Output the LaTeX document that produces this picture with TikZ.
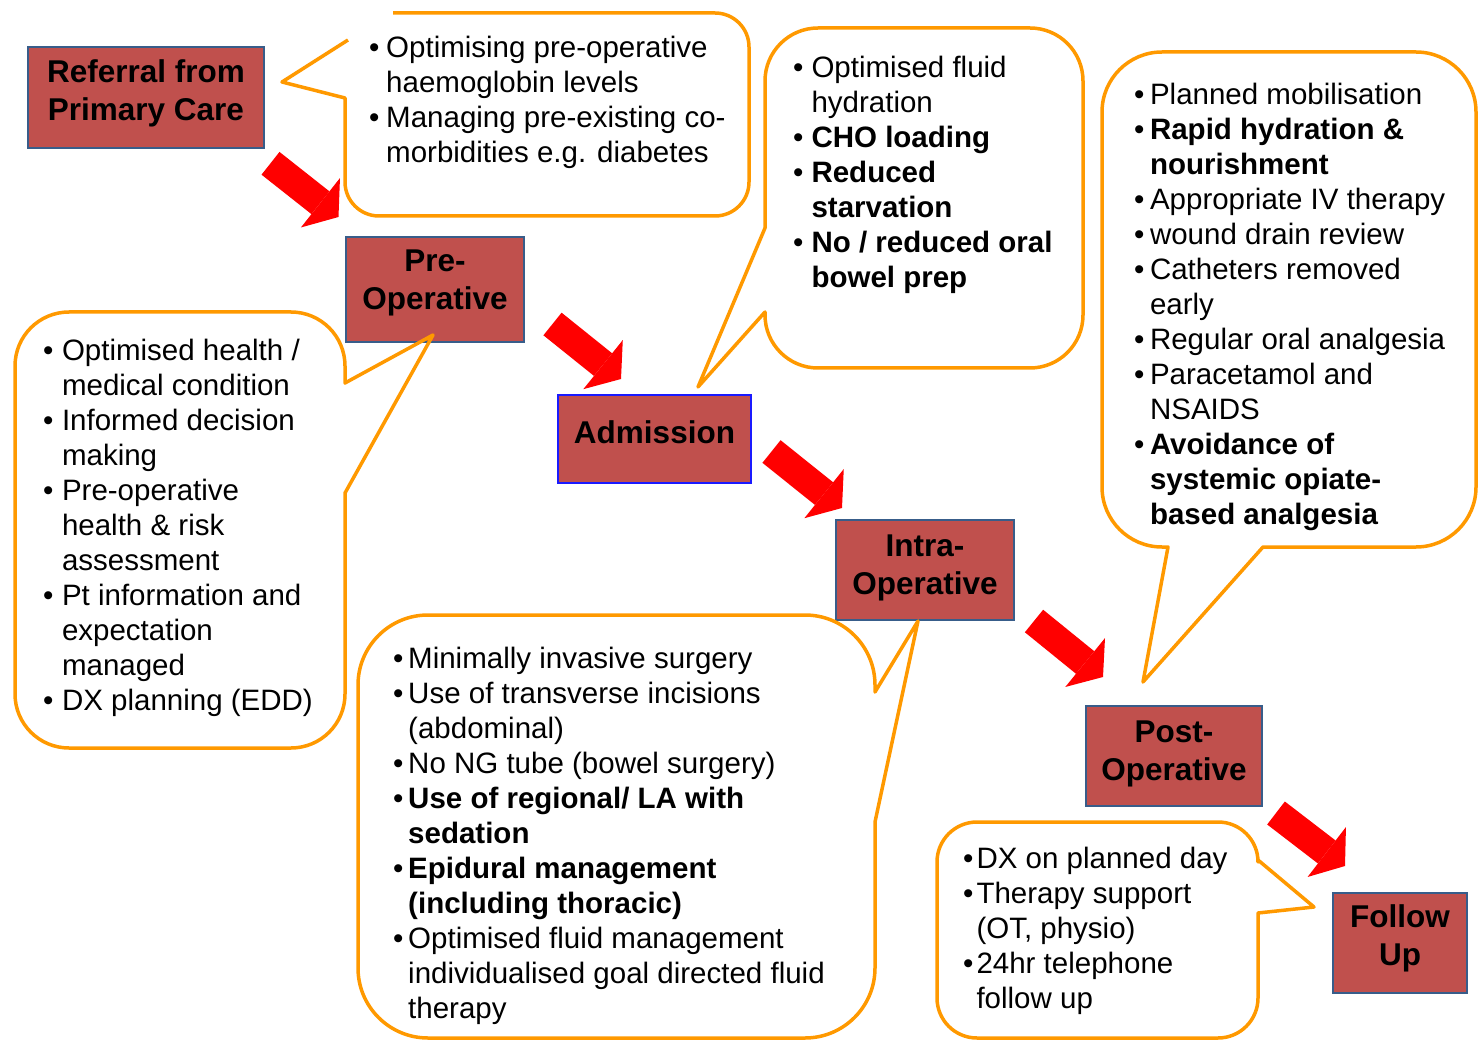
\documentclass[tikz,border=0pt]{standalone}
\usepackage{fontspec}
\setmainfont{Liberation Sans}
\usetikzlibrary{arrows.meta}
\definecolor{stagefill}{HTML}{C0504D}
\definecolor{stageline}{HTML}{385D8A}
\definecolor{admline}{HTML}{1A1AFF}
\definecolor{calloutline}{RGB}{255,153,0}
\newcommand{\cotab}[2]{\begin{tabular}[t]{@{}l@{\hspace{#1}}l@{}}#2\end{tabular}}
\newcommand{\lbtab}[1]{\begin{tabular}[t]{@{}c@{}}#1\end{tabular}}
\begin{document}
\begin{tikzpicture}[x=1pt,y=-1pt,
  stage/.style={draw=stageline, line width=2.5pt, fill=stagefill, inner sep=0pt},
  stagelabel/.style={anchor=base, inner sep=0pt, text=black, font=\fontsize{31.5}{38}\selectfont\bfseries},
  callout/.style={draw=calloutline, line width=3.5pt, line join=round},
  ctext/.style={anchor=base west, inner sep=0pt, text=black, font=\fontsize{29.5}{35}\selectfont},
  bigarrow/.style={draw=red, line width=29pt, -{Triangle[length=23pt,width=63pt,line width=0pt]}}]
\useasboundingbox (0,0) rectangle (1478,1040);

% ---------- stage boxes ----------
\node[stage, minimum width=236pt, minimum height=101pt] (ref) at (146,97.5) {};
\node[stage, minimum width=178pt, minimum height=105pt] (pre) at (435,289.5) {};
\node[stage, draw=admline, minimum width=193pt, minimum height=88pt] (adm) at (654.5,439) {};
\node[stage, minimum width=178pt, minimum height=100pt] (intra) at (925,570) {};
\node[stage, minimum width=176pt, minimum height=100pt] (post) at (1174,756) {};
\node[stage, minimum width=134pt, minimum height=100pt] (fol) at (1400,943) {};

\node[stagelabel] (reflbl) at (146,83) {\lbtab{Referral from\\Primary Care}};
\node[stagelabel] (prelbl) at (435,272) {\lbtab{Pre-\\Operative}};
\node[stagelabel] (admlbl) at (654.5,443) {Admission};
\node[stagelabel] (intralbl) at (925,556) {\lbtab{Intra-\\Operative}};
\node[stagelabel] (postlbl) at (1174,742) {\lbtab{Post-\\Operative}};
\node[stagelabel] (follbl) at (1400,927) {\lbtab{Follow\\Up}};

% ---------- callouts ----------
% A (referral)
\draw[callout] (393,13) -- (715,13) arc[start angle=-90,end angle=0,radius=34]
  -- (749,182) arc[start angle=0,end angle=90,radius=34]
  -- (379,216) arc[start angle=90,end angle=180,radius=34]
  -- (345,98) -- (282,82) -- (348,40);
% B (admission)
\draw[callout] (818,28) -- (1030,28) arc[start angle=-90,end angle=0,radius=53]
  -- (1083,315) arc[start angle=0,end angle=90,radius=53]
  -- (818,368) arc[start angle=90,end angle=180,radius=53]
  -- (765,312) -- (698,387) -- (765,228)
  -- (765,81) arc[start angle=180,end angle=270,radius=53] -- cycle;
% C (post-operative)
\draw[callout] (1162,52) -- (1416,52) arc[start angle=-90,end angle=0,radius=60]
  -- (1476,487) arc[start angle=0,end angle=90,radius=60]
  -- (1263,547) -- (1143,682) -- (1168,547)
  -- (1162,547) arc[start angle=90,end angle=180,radius=60]
  -- (1102,112) arc[start angle=180,end angle=270,radius=60] -- cycle;
% D (pre-operative)
\draw[callout] (69,312) -- (291,312) arc[start angle=-90,end angle=0,radius=54]
  -- (345,383) -- (433,335) -- (345,493)
  -- (345,694) arc[start angle=0,end angle=90,radius=54]
  -- (69,748) arc[start angle=90,end angle=180,radius=54]
  -- (15,366) arc[start angle=180,end angle=270,radius=54] -- cycle;
% E (intra-operative)
\draw[callout] (428,615) -- (805,615) arc[start angle=-90,end angle=0,radius=70]
  -- (875,692) -- (918,621) -- (875,822)
  -- (875,968) arc[start angle=0,end angle=90,radius=70]
  -- (428,1038) arc[start angle=90,end angle=180,radius=70]
  -- (358,685) arc[start angle=180,end angle=270,radius=70] -- cycle;
% F (follow up)
\draw[callout] (977,822) -- (1218,822) arc[start angle=-90,end angle=0,radius=40]
  -- (1258,860) -- (1314,907) -- (1258,913)
  -- (1258,998) arc[start angle=0,end angle=90,radius=40]
  -- (977,1038) arc[start angle=90,end angle=180,radius=40]
  -- (937,862) arc[start angle=180,end angle=270,radius=40] -- cycle;

% ---------- callout texts ----------
\node[ctext] (ta) at (369,58) {\cotab{6.7pt}{%
  • & Optimising pre-operative\\
    & haemoglobin levels\\
  • & Managing pre-existing co-\\
    & morbidities e.g. diabetes}};
\node[ctext] (tb) at (793,78) {\cotab{8pt}{%
  • & Optimised fluid\\
    & hydration\\
  • & \textbf{CHO loading}\\
  • & \textbf{Reduced}\\
    & \textbf{starvation}\\
  • & \textbf{No / reduced oral}\\
    & \textbf{bowel prep}}};
\node[ctext] (tc) at (1134,105) {\cotab{5.5pt}{%
  • & Planned mobilisation\\
  • & \textbf{Rapid hydration \&}\\
    & \textbf{nourishment}\\
  • & Appropriate IV therapy\\
  • & wound drain review\\
  • & Catheters removed\\
    & early\\
  • & Regular oral analgesia\\
  • & Paracetamol and\\
    & NSAIDS\\
  • & \textbf{Avoidance of}\\
    & \textbf{systemic opiate-}\\
    & \textbf{based analgesia}}};
\node[ctext] (td) at (43,361) {\cotab{8.5pt}{%
  • & Optimised health /\\
    & medical condition\\
  • & Informed decision\\
    & making\\
  • & Pre-operative\\
    & health \& risk\\
    & assessment\\
  • & Pt information and\\
    & expectation\\
    & managed\\
  • & DX planning (EDD)}};
\node[ctext] (te) at (393,668) {\cotab{4.7pt}{%
  • & Minimally invasive surgery\\
  • & Use of transverse incisions\\
    & (abdominal)\\
  • & No NG tube (bowel surgery)\\
  • & \textbf{Use of regional/ LA with}\\
    & \textbf{sedation}\\
  • & \textbf{Epidural management}\\
    & \textbf{(including thoracic)}\\
  • & Optimised fluid management\\
    & individualised goal directed fluid\\
    & therapy}};
\node[ctext] (tf) at (963,868) {\cotab{3pt}{%
  • & DX on planned day\\
  • & Therapy support\\
    & (OT, physio)\\
  • & 24hr telephone\\
    & follow up}};

% ---------- red block arrows ----------
\coordinate (a1s) at (270.5,163.3); \coordinate (a1e) at (338.5,217);
\coordinate (a2s) at (552.5,324);   \coordinate (a2e) at (621,379);
\coordinate (a3s) at (771.5,451.5); \coordinate (a3e) at (842,508);
\coordinate (a4s) at (1034,621);    \coordinate (a4e) at (1103,677);
\coordinate (a5s) at (1276,813);    \coordinate (a5e) at (1345,866);
\draw[bigarrow] (a1s) -- (a1e);
\draw[bigarrow] (a2s) -- (a2e);
\draw[bigarrow] (a3s) -- (a3e);
\draw[bigarrow] (a4s) -- (a4e);
\draw[bigarrow] (a5s) -- (a5e);
\end{tikzpicture}
\end{document}
